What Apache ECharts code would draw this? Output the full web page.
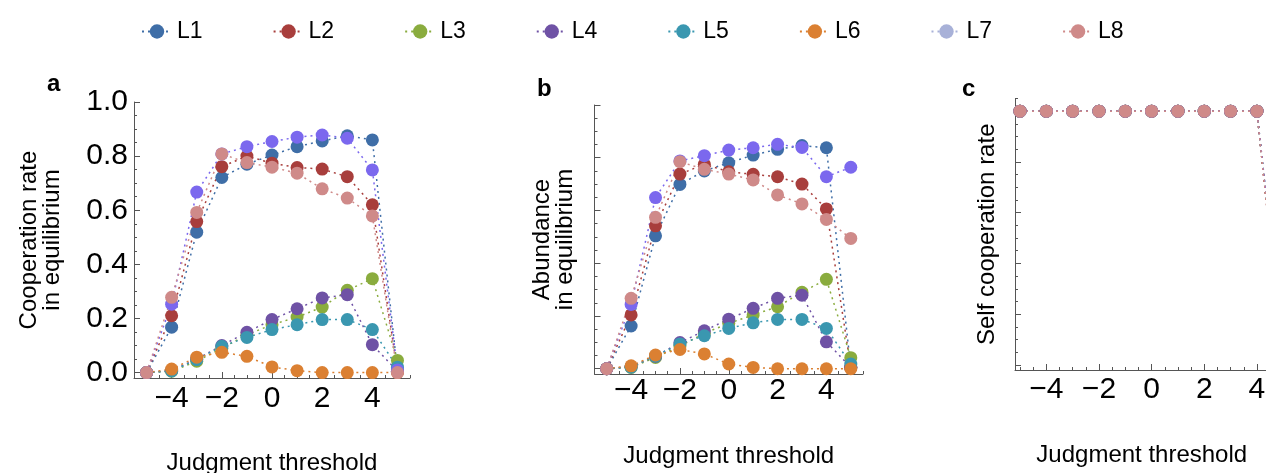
<!DOCTYPE html>
<html><head><meta charset="utf-8">
<script src="https://cdn.jsdelivr.net/npm/echarts@6/dist/echarts.min.js"></script>
<style>html,body{margin:0;padding:0;background:#fff;overflow:hidden;width:1266px;height:473px}#c{width:1310px;height:473px}</style>
</head><body><div id="c"></div>
<script>
// ---------- data ----------
const thresholds = [-5, -4, -3, -2, -1, 0, 1, 2, 3, 4, 5];
const seriesNames = ['L1', 'L2', 'L3', 'L4', 'L5', 'L6', 'L7', 'L8'];
const xTickLabels = [-4, -2, 0, 2, 4];
const yTickLabels = [0, 0.2, 0.4, 0.6, 0.8, 1.0];

// panel a: cooperation rate in equilibrium (rows L1..L8)
const coopRate = [
  [0, 0.168, 0.519, 0.721, 0.770, 0.804, 0.835, 0.856, 0.875, 0.860, 0.005],
  [0, 0.210, 0.558, 0.761, 0.800, 0.774, 0.758, 0.752, 0.724, 0.620, 0.005],
  [0, 0.005, 0.042, 0.090, 0.140, 0.177, 0.205, 0.242, 0.304, 0.347, 0.045],
  [0, 0.008, 0.050, 0.100, 0.149, 0.196, 0.236, 0.276, 0.288, 0.103, 0.005],
  [0, 0.006, 0.048, 0.097, 0.130, 0.159, 0.177, 0.196, 0.196, 0.159, 0.020],
  [0, 0.013, 0.057, 0.075, 0.060, 0.021, 0.007, 0.000, 0.000, 0.000, 0.000],
  [0, 0.253, 0.667, 0.808, 0.835, 0.854, 0.870, 0.878, 0.866, 0.749, 0.010],
  [0, 0.278, 0.592, 0.808, 0.776, 0.759, 0.737, 0.679, 0.645, 0.579, 0.000]
];
// panel b: abundance in equilibrium (rows L1..L8)
const abundance = [
  [0, 0.162, 0.504, 0.699, 0.750, 0.781, 0.810, 0.832, 0.846, 0.838, 0.005],
  [0, 0.204, 0.542, 0.738, 0.775, 0.747, 0.737, 0.728, 0.700, 0.606, 0.005],
  [0, 0.005, 0.043, 0.086, 0.134, 0.172, 0.204, 0.235, 0.290, 0.339, 0.042],
  [0, 0.008, 0.047, 0.099, 0.144, 0.188, 0.229, 0.267, 0.279, 0.102, 0.005],
  [0, 0.006, 0.048, 0.094, 0.125, 0.153, 0.174, 0.187, 0.187, 0.153, 0.018],
  [0, 0.011, 0.052, 0.073, 0.056, 0.018, 0.005, 0.000, 0.000, 0.000, 0.000],
  [0, 0.244, 0.649, 0.788, 0.808, 0.829, 0.838, 0.851, 0.839, 0.728, 0.764],
  [0, 0.267, 0.574, 0.785, 0.756, 0.738, 0.716, 0.659, 0.625, 0.566, 0.494]
];
// panel c: self cooperation rate (rows L1..L8)
const selfCoop = [
  [1, 1, 1, 1, 1, 1, 1, 1, 1, 1, 0.02],
  [1, 1, 1, 1, 1, 1, 1, 1, 1, 1, 0.01],
  [1, 1, 1, 1, 1, 1, 1, 1, 1, 1, 0.05],
  [1, 1, 1, 1, 1, 1, 1, 1, 1, 1, 0.00],
  [1, 1, 1, 1, 1, 1, 1, 1, 1, 1, 0.03],
  [1, 1, 1, 1, 1, 1, 1, 1, 1, 1, 0.00],
  [1, 1, 1, 1, 1, 1, 1, 1, 1, 1, 0.06],
  [1, 1, 1, 1, 1, 1, 1, 1, 1, 1, 0.00]
];

// ---------- styles ----------
const plotColors = ['#3f6ea7', '#a83e3c', '#8aac3e', '#6f52a5', '#3a97b0', '#db8032', '#7b68ee', '#cf8a89'];
const legendColors = ['#3f6ea7', '#a83e3c', '#8aac3e', '#6f52a5', '#3a97b0', '#db8032', '#a8b1d8', '#cf8a89'];
const FONT = "'Liberation Sans', Arial, Helvetica, sans-serif";
const AXIS = '#555';

function steps(a, b, s) { const out = []; for (let v = a; v <= b + 1e-9; v += s) out.push(Math.round(v * 1000) / 1000); return out; }
function minorOf(all, major) { return all.filter(v => !major.some(m => Math.abs(m - v) < 1e-9)); }

const panels = [
  { data: coopRate, grid: { left: 134, top: 102, width: 276, height: 276 }, xmin: -5.5, xmax: 5.5, ymin: -0.02, ymax: 1.0,
    yLabels: true, yName: 'Cooperation rate\nin equilibrium', yNameGap: 70, xNameGap: 73, labelMargin: 6,
    xMinor: minorOf(steps(-5.5, 5.5, 0.5), xTickLabels), yMinor: minorOf(steps(0, 1.0, 0.05), yTickLabels), namePad: [0, 0, 0, 0] },
  { data: abundance, grid: { left: 594.5, top: 105, width: 268.5, height: 269 }, xmin: -5.5, xmax: 5.5, ymin: -0.02, ymax: 1.0,
    yLabels: false, yName: 'Abundance\nin equilibrium', yNameGap: 18, xNameGap: 70, labelMargin: 2,
    xMinor: minorOf(steps(-5.5, 5.5, 0.5), xTickLabels), yMinor: minorOf(steps(0, 1.0, 0.05), yTickLabels), namePad: [0, 0, 0, 0] },
  { data: selfCoop, grid: { left: 1015, top: 98.5, width: 273.5, height: 271.5 }, xmin: -5.19, xmax: 5.2, ymin: -0.02, ymax: 1.05,
    yLabels: false, yName: 'Self cooperation rate', yNameGap: 16, xNameGap: 73, labelMargin: 5,
    xMinor: minorOf(steps(-5, 5, 0.5), xTickLabels), yMinor: minorOf(steps(0, 1.05, 0.05), yTickLabels), namePad: [0, 20, 0, 0] }
];

const grids = [], xAxes = [], yAxes = [], series = [];
panels.forEach((p, pi) => {
  grids.push(Object.assign({ containLabel: false, outerBoundsMode: 'none' }, p.grid));
  xAxes.push({
    type: 'value', gridIndex: pi, position: 'bottom', min: p.xmin, max: p.xmax,
    axisLine: { show: true, onZero: false, lineStyle: { color: AXIS, width: 1 } },
    axisTick: { show: true, inside: true, length: 6, customValues: xTickLabels, lineStyle: { color: AXIS } },
    axisLabel: { show: true, customValues: xTickLabels, margin: p.labelMargin, fontSize: 30, color: '#000', fontFamily: FONT,
      formatter: v => (v < 0 ? '\u2212' + Math.abs(v) : String(v)) },
    splitLine: { show: false },
    name: 'Judgment threshold', nameLocation: 'middle', nameGap: p.xNameGap,
    nameTextStyle: { fontSize: 24, color: '#000', fontFamily: FONT, padding: p.namePad }
  });
  xAxes.push({
    type: 'value', gridIndex: pi, position: 'bottom', min: p.xmin, max: p.xmax,
    axisLine: { show: false, onZero: false },
    axisTick: { show: true, inside: true, length: 3, customValues: p.xMinor, lineStyle: { color: AXIS } },
    axisLabel: { show: false }, splitLine: { show: false }
  });
  yAxes.push({
    type: 'value', gridIndex: pi, position: 'left', min: p.ymin, max: p.ymax,
    axisLine: { show: true, onZero: false, lineStyle: { color: AXIS, width: 1 } },
    axisTick: { show: true, inside: true, length: 6, customValues: yTickLabels, lineStyle: { color: AXIS } },
    axisLabel: { show: p.yLabels, customValues: yTickLabels, margin: 6, fontSize: 30, color: '#000', fontFamily: FONT,
      formatter: v => v.toFixed(1) },
    splitLine: { show: false },
    name: p.yName, nameLocation: 'middle', nameGap: p.yNameGap,
    nameTextStyle: { fontSize: 24, lineHeight: 23, color: '#000', fontFamily: FONT }
  });
  yAxes.push({
    type: 'value', gridIndex: pi, position: 'left', min: p.ymin, max: p.ymax,
    axisLine: { show: false, onZero: false },
    axisTick: { show: true, inside: true, length: 3, customValues: p.yMinor, lineStyle: { color: AXIS } },
    axisLabel: { show: false }, splitLine: { show: false }
  });
  seriesNames.forEach((name, i) => {
    series.push({
      type: 'line', name: name, xAxisIndex: pi * 2, yAxisIndex: pi * 2,
      data: thresholds.map((x, j) => [x, p.data[i][j]]),
      symbol: 'circle', symbolSize: 13, showSymbol: true,
      itemStyle: { color: plotColors[i] },
      lineStyle: { color: plotColors[i], width: 1.5, type: [2, 4] },
      emphasis: { disabled: true }, clip: true
    });
  });
});

const chart = echarts.init(document.getElementById('c'), null, { renderer: 'canvas' });
chart.setOption({
  animation: false,
  backgroundColor: '#fff',
  grid: grids, xAxis: xAxes, yAxis: yAxes, series: series,
  legend: {
    top: 15, left: 136, itemWidth: 30, itemHeight: 18, itemGap: 70,
    textStyle: { fontSize: 23, color: '#000', fontFamily: FONT },
    data: seriesNames.map((n, i) => ({ name: n, itemStyle: { color: legendColors[i] }, lineStyle: { color: legendColors[i] } }))
  },
  graphic: [
    { type: 'text', left: 47, top: 72, style: { text: 'a', font: 'bold 24px ' + FONT, fill: '#000' } },
    { type: 'text', left: 537, top: 77, style: { text: 'b', font: 'bold 24px ' + FONT, fill: '#000' } },
    { type: 'text', left: 962, top: 77, style: { text: 'c', font: 'bold 24px ' + FONT, fill: '#000' } }
  ]
});
</script></body></html>
